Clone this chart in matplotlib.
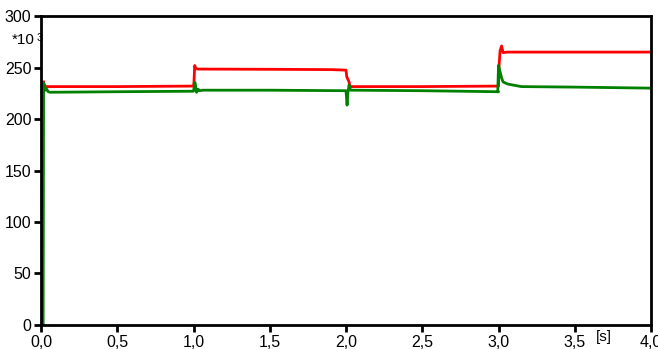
import matplotlib
matplotlib.use('Agg')
import matplotlib.pyplot as plt

# time in s, values in units of 10^3
t_red = [0.017, 0.02, 0.024, 0.03, 0.05, 0.5, 1.0, 1.003, 1.008, 1.015, 1.03, 1.06,
         1.5, 1.9, 2.0, 2.005, 2.02, 2.026, 2.05, 2.5, 3.0, 3.003, 3.01, 3.02,
         3.03, 3.06, 4.0]
red = [236, 234, 232, 231.5, 231.5, 231.5, 232, 236, 252, 249, 248.5, 248.5,
       248.3, 248, 247.5, 241, 236, 231.5, 231.5, 231.5, 232, 250, 266, 271,
       264.5, 265, 265]

t_green = [0.0, 0.014, 0.017, 0.02, 0.024, 0.029, 0.037, 0.048, 0.06, 0.5, 1.0, 1.01,
           1.02, 1.03, 1.04, 1.06, 1.5, 2.0, 2.007, 2.012, 2.02, 2.03, 2.05,
           2.5, 3.0, 2.995, 3.0, 3.01, 3.02, 3.03, 3.06, 3.095, 3.15, 3.5, 4.0]
green = [0, 0, 235, 230, 233, 228, 229, 226.5, 226, 226.5, 227, 235.5, 226,
         229, 227.5, 228, 228, 227.5, 213.5, 225, 233, 228, 228, 227.5,
         226.5, 226.5, 252, 246, 240, 236, 234, 233, 231.5, 231, 230]

x_ticks = [0.0, 0.5, 1.0, 1.5, 2.0, 2.5, 3.0, 3.5, 4.0]
x_labels = ["0,0", "0,5", "1,0", "1,5", "2,0", "2,5", "3,0", "3,5", "4,0"]
y_ticks = [0, 50, 100, 150, 200, 250, 300]

plt.rcParams['font.family'] = ['Liberation Sans', 'DejaVu Sans']

fig = plt.figure(figsize=(6.58, 3.49), dpi=100)
ax = fig.add_axes([0.0623, 0.0688, 0.9271, 0.8852])

ax.plot(t_red, red, color='#ff0000', lw=2.0)
ax.plot(t_green, green, color='#008000', lw=2.0)

ax.set_xlim(0, 4)
ax.set_ylim(0, 300)
ax.set_xticks(x_ticks)
ax.set_xticklabels(x_labels)
ax.set_yticks(y_ticks)
ax.tick_params(direction='out', length=5, width=2, labelsize=11.5, pad=2)
for s in ax.spines.values():
    s.set_linewidth(2)

fig.text(0.018, 0.885, "*10", fontsize=11, ha='left', va='center')
fig.text(0.056, 0.892, "3", fontsize=8, ha='left', va='center')
fig.text(0.917, 0.035, "[s]", fontsize=11, ha='center', va='center')

fig.savefig("out.png", dpi=100)
